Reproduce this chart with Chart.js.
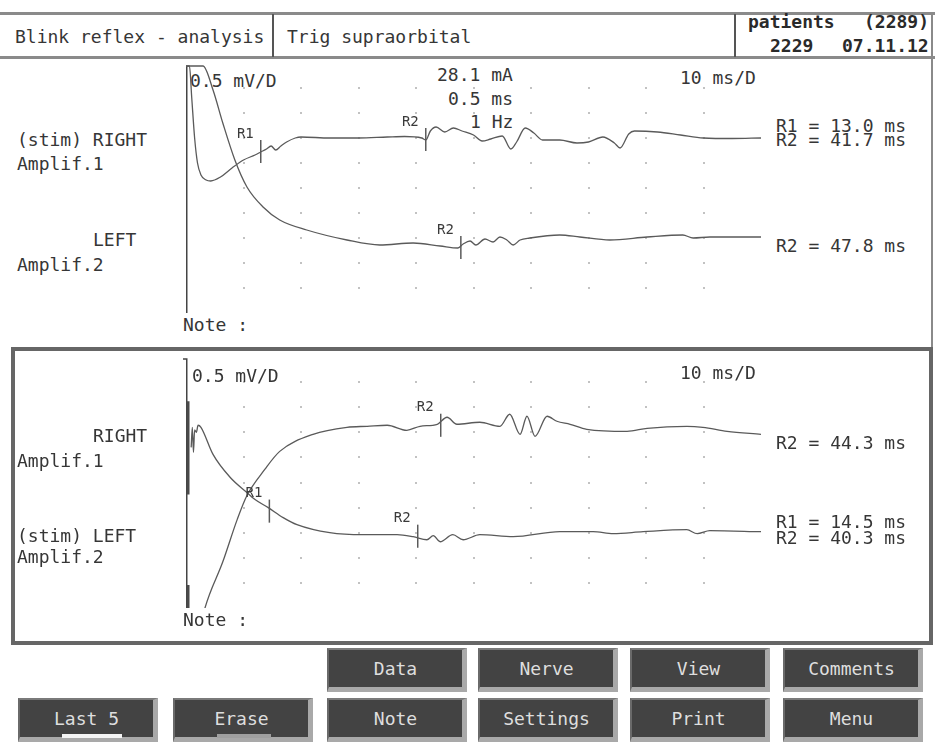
<!DOCTYPE html>
<html><head><meta charset="utf-8">
<script src="https://cdn.jsdelivr.net/npm/chart.js@4"></script>
<style>
html,body{margin:0;padding:0;background:#fff;}
body{width:935px;height:746px;position:relative;overflow:hidden;font-family:"DejaVu Sans Mono",monospace;color:#363636;}
.t{position:absolute;font-size:18px;line-height:18px;white-space:pre;}
.b{font-weight:bold;color:#2a2a2a;}
.ln{position:absolute;background:#8a8a8a;}
canvas{position:absolute;left:0;z-index:2;}
.box{position:absolute;left:11px;top:347px;width:922px;height:298px;box-sizing:border-box;border:4px solid #666;z-index:1;}
.btn{position:absolute;box-sizing:border-box;width:140px;height:44px;background:#434343;border-top:2px solid #7a7a7a;border-left:2px solid #6a6a6a;border-right:5px solid #a9a9a9;border-bottom:5px solid #a9a9a9;color:#dedede;font-size:18px;text-align:center;line-height:37px;white-space:pre;}
.ul{position:absolute;height:4px;}
</style></head>
<body>
<!-- header -->
<div class="ln" style="left:0;top:12px;width:935px;height:3px;"></div>
<div class="ln" style="left:0;top:56px;width:935px;height:3px;"></div>
<div class="ln" style="left:272px;top:14px;width:2px;height:43px;background:#555;"></div>
<div class="ln" style="left:734px;top:14px;width:2px;height:43px;background:#555;"></div>
<div class="ln" style="left:931px;top:14px;width:2px;height:334px;background:#8a8a8a;"></div>
<div class="t" style="left:15px;top:28px;">Blink reflex - analysis</div>
<div class="t" style="left:287px;top:28px;">Trig supraorbital</div>
<div class="t b" style="left:748px;top:13px;">patients</div>
<div class="t b" style="left:864px;top:13px;">(2289)</div>
<div class="t b" style="left:770px;top:37px;">2229</div>
<div class="t b" style="left:842px;top:37px;">07.11.12</div>

<!-- top panel text -->
<div class="t" style="left:190px;top:72px;">0.5 mV/D</div>
<div class="t" id="stim0" style="left:437px;top:66px;"></div>
<div class="t" id="stim1" style="left:448px;top:90px;"></div>
<div class="t" id="stim2" style="left:470px;top:113px;"></div>
<div class="t" style="left:680px;top:69px;">10 ms/D</div>
<div class="t" style="left:17px;top:131px;">(stim) RIGHT</div>
<div class="t" style="left:17px;top:155px;">Amplif.1</div>
<div class="t" style="left:93px;top:231px;">LEFT</div>
<div class="t" style="left:17px;top:256px;">Amplif.2</div>
<div class="t" id="tr0" style="left:776px;top:117px;"></div>
<div class="t" id="tr1" style="left:776px;top:131px;"></div>
<div class="t" id="tr2" style="left:776px;top:237px;"></div>
<div class="t" style="left:183px;top:316px;">Note :</div>

<div class="box"></div>
<!-- bottom panel text -->
<div class="t" style="left:192px;top:367px;z-index:3;">0.5 mV/D</div>
<div class="t" style="left:680px;top:364px;z-index:3;">10 ms/D</div>
<div class="t" style="left:93px;top:427px;z-index:3;">RIGHT</div>
<div class="t" style="left:17px;top:452px;z-index:3;">Amplif.1</div>
<div class="t" style="left:17px;top:527px;z-index:3;">(stim) LEFT</div>
<div class="t" style="left:17px;top:548px;z-index:3;">Amplif.2</div>
<div class="t" id="br2" style="left:776px;top:434px;z-index:3;"></div>
<div class="t" id="br0" style="left:776px;top:513px;z-index:3;"></div>
<div class="t" id="br1" style="left:776px;top:529px;z-index:3;"></div>
<div class="t" style="left:183px;top:611px;z-index:3;">Note :</div>

<canvas id="topChart" width="935" height="290" style="top:57px;"></canvas>
<canvas id="botChart" width="935" height="290" style="top:350px;"></canvas>

<!-- buttons -->
<div class="btn" style="left:327px;top:648px;">Data</div>
<div class="btn" style="left:478px;top:648px;">Nerve</div>
<div class="btn" style="left:630px;top:648px;">View</div>
<div class="btn" style="left:783px;top:648px;">Comments</div>
<div class="btn" style="left:18px;top:698px;">Last 5</div>
<div class="btn" style="left:173px;top:698px;">Erase</div>
<div class="btn" style="left:327px;top:698px;">Note</div>
<div class="btn" style="left:478px;top:698px;">Settings</div>
<div class="btn" style="left:630px;top:698px;">Print</div>
<div class="btn" style="left:783px;top:698px;">Menu</div>
<div class="ul" style="left:62px;top:734px;width:60px;background:#f4f4f4;"></div>
<div class="ul" style="left:217px;top:734px;width:54px;background:#a0a0a0;"></div>

<script>
// ---------- data (time in ms, amplitude in mV) ----------
const sweepMs = [0, 100];          // 10 ms/D
const rangeMv = [0, 5];            // 0.5 mV/D
const divMs = 10;
const divMv = 0.5;
const stimParams = ['28.1 mA', '0.5 ms', '1 Hz'];

// Top panel: stim RIGHT
const topRightT = [0,0.6,1.0,1.5,2.0,2.6,3.5,4.3,6,8,10,12,13,14,14.8,15.6,16.5,17.5,19,20,25,30,35,38,41,41.7,42.5,43.5,45,46.5,48,50,51.5,53,55,56.5,57.5,59,60.5,62,65,68,70,72.5,74.5,75.5,77,78,82,86,90,95,100];
const topRightV = [4.94,4.94,4.3,3.5,3.0,2.76,2.66,2.64,2.72,2.9,3.06,3.16,3.22,3.28,3.34,3.26,3.34,3.42,3.5,3.52,3.5,3.5,3.52,3.53,3.5,3.46,3.64,3.72,3.62,3.7,3.64,3.56,3.44,3.48,3.54,3.28,3.42,3.7,3.6,3.46,3.46,3.4,3.42,3.52,3.4,3.3,3.58,3.64,3.62,3.56,3.5,3.49,3.5];
const topLeftT = [0,2.96,4.7,6.4,8.5,10.6,13.4,16.3,21,28,33.7,39.5,44.2,47.3,48.2,49.4,50.4,52,53.4,54.6,55.8,56.9,58.1,59.8,65,68.5,73.7,80.2,86.4,88.2,91.1,100];
const topLeftV = [4.94,4.94,4.46,3.8,3.06,2.52,2.12,1.86,1.66,1.46,1.36,1.40,1.34,1.30,1.38,1.44,1.36,1.48,1.42,1.52,1.46,1.36,1.46,1.50,1.56,1.52,1.46,1.52,1.56,1.50,1.52,1.52];
const topMarkerNames = ['R1', 'R2', 'R2'];
const topMarkerMs = [13.0, 41.7, 47.8];
const topMarkerMv = [3.23, 3.47, 1.31];

// Bottom panel: stim LEFT
const botRightT = [2.9,3.3,6.4,8.9,10.6,13.7,16.3,22.1,28,31.5,35,38.4,40.7,43.7,45.4,47.1,51.1,54.6,56.3,58.1,59.3,60.7,62.8,64.5,66.8,69.7,76.7,80.2,87.1,89.9,94.1,100];
const botRightV = [-0.2,0.0,0.92,1.76,2.24,2.76,3.12,3.46,3.6,3.62,3.64,3.54,3.62,3.66,3.8,3.66,3.7,3.62,3.86,3.46,3.82,3.42,3.82,3.72,3.66,3.56,3.52,3.58,3.62,3.6,3.52,3.46];
const botLeftT = [0.9,1.1,1.3,1.5,1.8,2.1,2.6,4.7,7.7,10.6,12,14.3,16.9,19.3,25,30.8,36.7,39.5,41.9,43,44.2,46.4,48.2,51.1,56.9,65,70.8,74.3,79.5,87.1,88.9,91.1,100];
const botLeftV = [3.2,3.6,3.1,3.55,3.5,3.64,3.6,3.06,2.6,2.3,2.16,2.0,1.8,1.66,1.5,1.46,1.46,1.42,1.36,1.44,1.32,1.46,1.36,1.46,1.42,1.52,1.52,1.48,1.52,1.56,1.48,1.54,1.52];
const botArtifactT = [0.35, 0.35];
const botArtifactUpperV = [4.12, 2.26];
const botArtifactLowerV = [0.46, 0.0];
const botMarkerNames = ['R1', 'R2', 'R2'];
const botMarkerMs = [14.5, 40.3, 44.3];
const botMarkerMv = [1.93, 1.43, 3.64];

// ---------- texts ----------
stimParams.forEach((s, i) => document.getElementById('stim' + i).textContent = s);
const res = (n, ms) => n + ' = ' + ms.toFixed(1) + ' ms';
[0,1,2].forEach(i => document.getElementById('tr' + i).textContent = res(topMarkerNames[i], topMarkerMs[i]));
[0,1,2].forEach(i => document.getElementById('br' + i).textContent = res(botMarkerNames[i], botMarkerMs[i]));

// ---------- chart helpers ----------
const TRACE = '#5a5a5a';
const pts = (t, v) => t.map((x, i) => ({x: x, y: v[i]}));
const trace = (t, v) => ({data: pts(t, v), borderColor: TRACE, borderWidth: 1.3, pointRadius: 0, showLine: true, fill: false, cubicInterpolationMode: 'monotone'});
const mark = (ms, mv) => ({data: [{x: ms, y: mv - 0.23}, {x: ms, y: mv + 0.23}], borderColor: TRACE, borderWidth: 1.5, pointRadius: 0, showLine: true, tension: 0});
const bar = (t, v) => ({data: pts(t, v), borderColor: '#4a4a4a', borderWidth: 3, pointRadius: 0, showLine: true, tension: 0});

const panelPlugin = {
  id: 'panel',
  beforeDatasetsDraw(chart, args, opts) {
    const {ctx, chartArea: a, scales: {x, y}} = chart;
    ctx.save();
    ctx.fillStyle = '#c2c2c2';
    for (let t = sweepMs[0] + divMs; t < sweepMs[1] - 1e-6; t += divMs) {
      for (let v = rangeMv[0] + divMv; v < rangeMv[1] - 1e-6; v += divMv) {
        ctx.fillRect(Math.round(x.getPixelForValue(t)) - 1, Math.round(y.getPixelForValue(v)) - 1, 2, 2);
      }
    }
    ctx.strokeStyle = '#444';
    ctx.lineWidth = 1.5;
    ctx.beginPath();
    const top = a.top + opts.axisOffset;
    if (opts.bracket) { ctx.moveTo(a.left - 3, top); ctx.lineTo(a.left + 0.75, top); }
    else ctx.moveTo(a.left + 0.75, top);
    ctx.lineTo(a.left + 0.75, a.bottom);
    ctx.stroke();
    ctx.restore();
  },
  afterDatasetsDraw(chart, args, opts) {
    const {ctx, scales: {x, y}} = chart;
    ctx.save();
    ctx.font = '14px "DejaVu Sans Mono"';
    ctx.fillStyle = '#3a3a3a';
    ctx.textAlign = 'right';
    ctx.textBaseline = 'middle';
    opts.names.forEach((n, i) => {
      const px = x.getPixelForValue(opts.ms[i]);
      const py = y.getPixelForValue(opts.mv[i] + 0.23);
      ctx.fillText(n, px - 7, py - 6);
    });
    ctx.restore();
  }
};

const baseOptions = (pad, panelOpts) => ({
  responsive: false, animation: false, devicePixelRatio: 1, events: [],
  layout: {padding: pad},
  scales: {
    x: {type: 'linear', min: sweepMs[0], max: sweepMs[1], display: false},
    y: {type: 'linear', min: rangeMv[0], max: rangeMv[1], display: false}
  },
  plugins: {legend: {display: false}, tooltip: {enabled: false}, panel: panelOpts}
});

new Chart(document.getElementById('topChart'), {
  type: 'scatter',
  data: {datasets: [
    trace(topRightT, topRightV),
    trace(topLeftT, topLeftV),
    ...topMarkerMs.map((m, i) => mark(m, topMarkerMv[i]))
  ]},
  options: baseOptions({left: 186, right: 174, top: 6, bottom: 34},
    {names: topMarkerNames, ms: topMarkerMs, mv: topMarkerMv, axisOffset: 3, bracket: false}),
  plugins: [panelPlugin]
});

new Chart(document.getElementById('botChart'), {
  type: 'scatter',
  data: {datasets: [
    trace(botRightT, botRightV),
    trace(botLeftT, botLeftV),
    bar(botArtifactT, botArtifactUpperV),
    bar(botArtifactT, botArtifactLowerV),
    ...botMarkerMs.map((m, i) => mark(m, botMarkerMv[i]))
  ]},
  options: baseOptions({left: 186, right: 174, top: 7, bottom: 32},
    {names: botMarkerNames, ms: botMarkerMs, mv: botMarkerMv, axisOffset: 2, bracket: true}),
  plugins: [panelPlugin]
});
</script>
</body></html>
